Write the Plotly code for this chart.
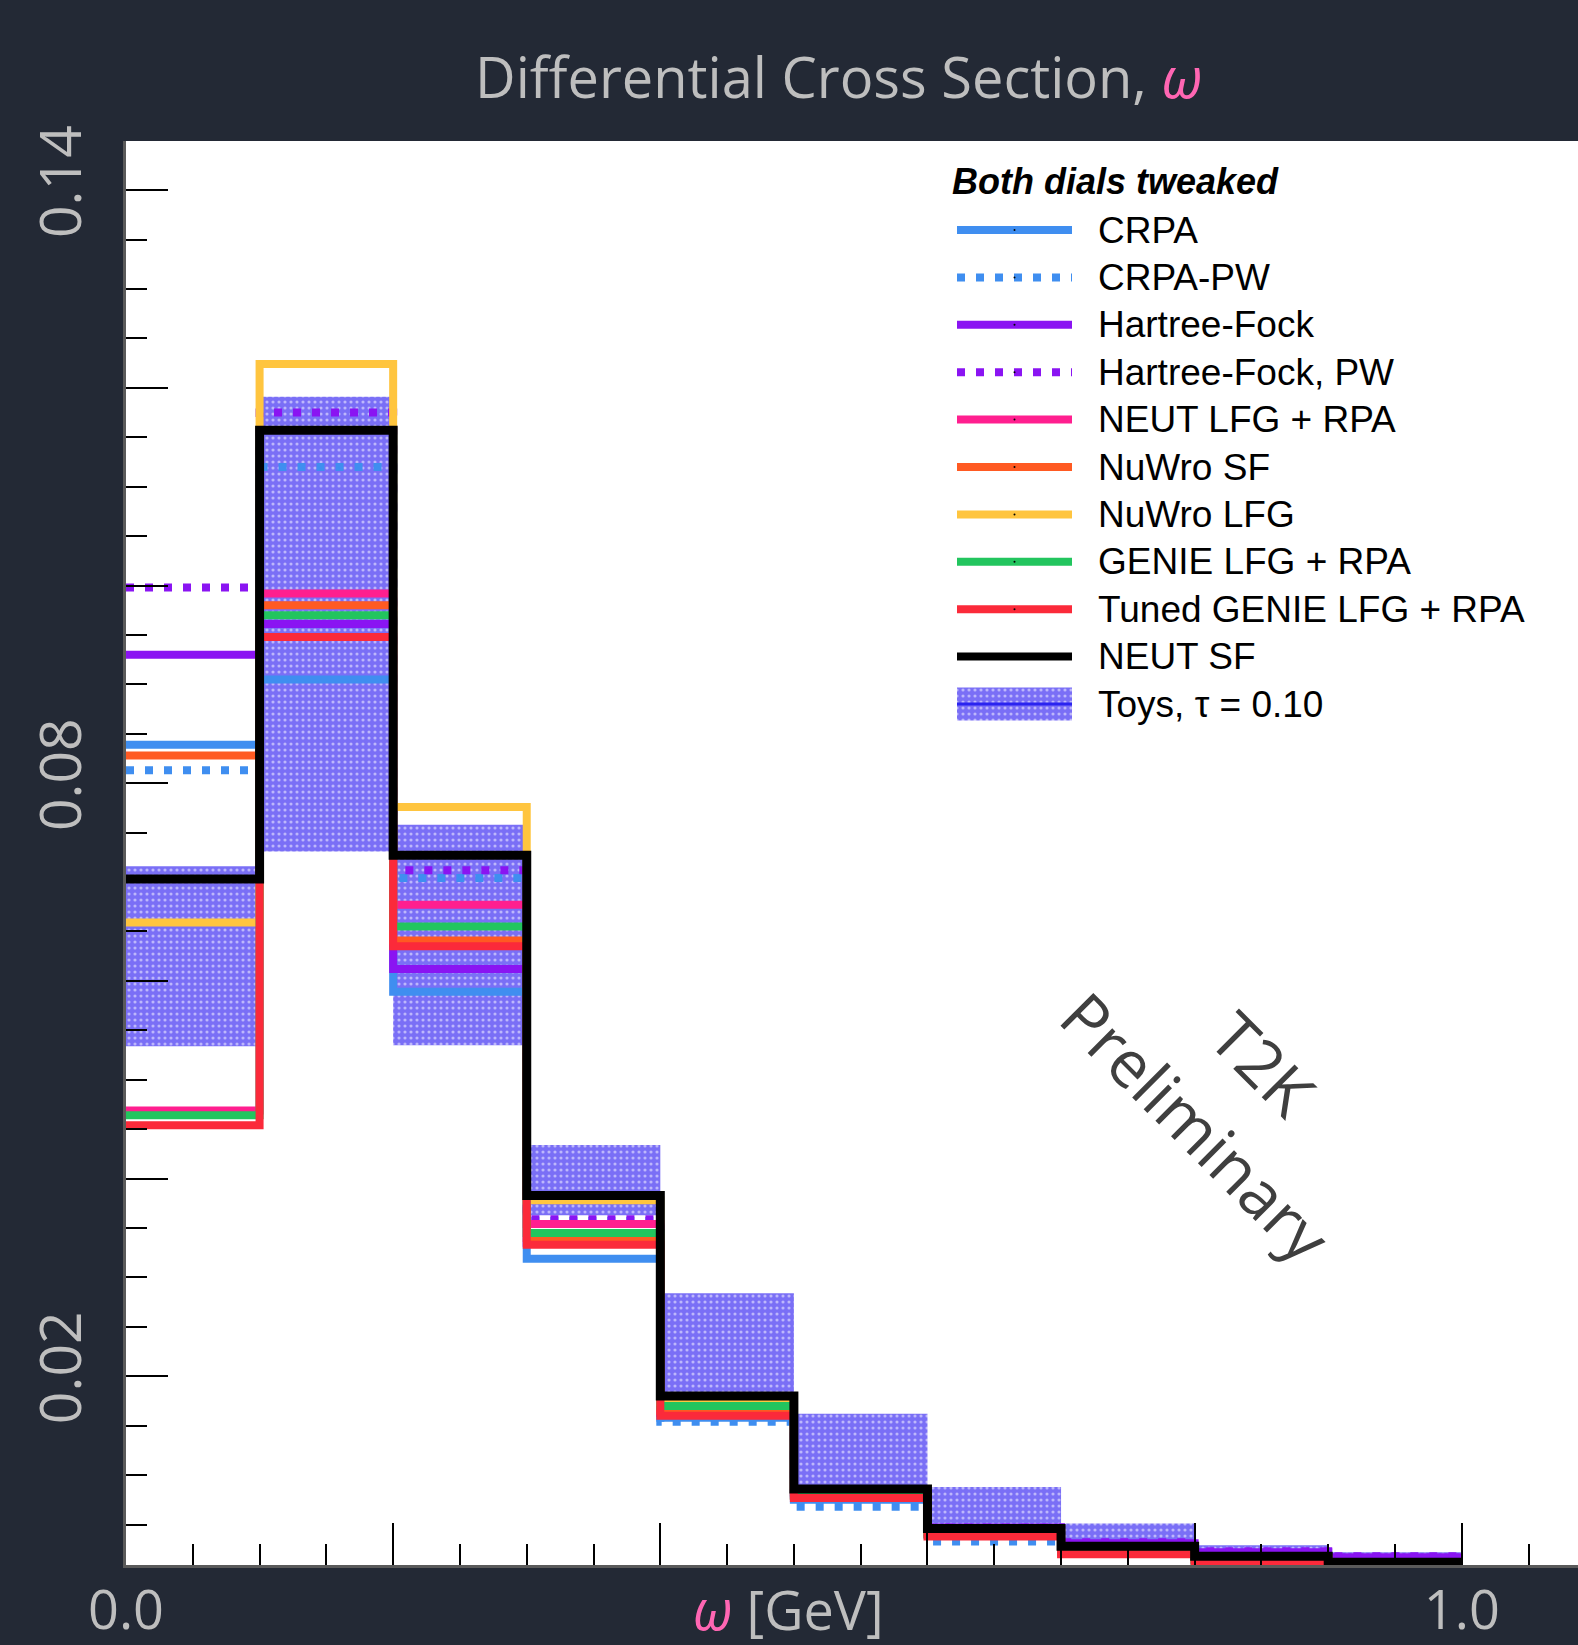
import plotly.graph_objects as go

# Binning in omega [GeV]
bin_edges = [0.0, 0.1, 0.2, 0.3, 0.4, 0.5, 0.6, 0.7, 0.8, 0.9, 1.0]

# Model predictions per bin
crpa = [0.0839, 0.0905, 0.0589, 0.0319, 0.0158, 0.0075, 0.0040, 0.0024, 0.0014, 0.0010]
crpa_pw = [0.0813, 0.1120, 0.0704, 0.0357, 0.0154, 0.0068, 0.0033, 0.0022, 0.0013, 0.0009]
hartree_fock = [0.0930, 0.0961, 0.0612, 0.0335, 0.0163, 0.0082, 0.0047, 0.0031, 0.0022, 0.0017]
hartree_fock_pw = [0.0998, 0.1175, 0.0712, 0.0359, 0.0168, 0.0083, 0.0047, 0.0032, 0.0023, 0.0018]
neut_lfg_rpa = [0.0469, 0.0992, 0.0677, 0.0354, 0.0168, 0.0080, 0.0042, 0.0025, 0.0015, 0.0010]
nuwro_sf = [0.0828, 0.0980, 0.0641, 0.0340, 0.0165, 0.0079, 0.0041, 0.0024, 0.0014, 0.0009]
nuwro_lfg = [0.0659, 0.1224, 0.0776, 0.0378, 0.0174, 0.0083, 0.0044, 0.0026, 0.0016, 0.0011]
genie_lfg_rpa = [0.0464, 0.0970, 0.0655, 0.0345, 0.0170, 0.0079, 0.0040, 0.0023, 0.0013, 0.0009]
tuned_genie = [0.0454, 0.0948, 0.0635, 0.0333, 0.0160, 0.0077, 0.0038, 0.0020, 0.0011, 0.0007]
neut_sf = [0.0703, 0.1157, 0.0727, 0.0383, 0.0180, 0.0086, 0.0046, 0.0028, 0.0018, 0.0012]

# Spread of the toy throws (tau = 0.10)
toys_low = [0.0534, 0.0731, 0.0535, 0.0363, 0.0183, 0.0088, 0.0049, 0.0033, 0.0024, 0.0019]
toys_high = [0.0716, 0.1191, 0.0758, 0.0434, 0.0284, 0.0162, 0.0088, 0.0051, 0.0029, 0.0022]

# Axis tick labels
x_tickvals = [0.0, 0.2, 0.4, 0.6, 0.8, 1.0]
x_ticktext = ["0.0", "", "", "", "", "1.0"]
y_tickvals = [0.02, 0.04, 0.06, 0.08, 0.10, 0.12, 0.14]
y_ticktext = ["0.02", "", "", "0.08", "", "", "0.14"]

DOT = "8px,11px"
series = [
    ("CRPA", crpa, "#3f8ef0", "solid"),
    ("CRPA-PW", crpa_pw, "#3f8ef0", DOT),
    ("Hartree-Fock", hartree_fock, "#8a14f2", "solid"),
    ("Hartree-Fock, PW", hartree_fock_pw, "#8a14f2", DOT),
    ("NEUT LFG + RPA", neut_lfg_rpa, "#ff1f8f", "solid"),
    ("NuWro SF", nuwro_sf, "#ff5a22", "solid"),
    ("NuWro LFG", nuwro_lfg, "#ffc53f", "solid"),
    ("GENIE LFG + RPA", genie_lfg_rpa, "#22c55e", "solid"),
    ("Tuned GENIE LFG + RPA", tuned_genie, "#fb2a3a", "solid"),
    ("NEUT SF", neut_sf, "#000000", "solid"),
]

BG = "#232935"
LABEL = "#bebebe"
PINK = "#ff66b3"
TOYS = "#7a6ff6"
TOY_PATTERN = dict(shape=".", fgcolor="white", size=6, solidity=0.22)

W, H = 1578, 1645
ML, MR, MT, MB = 126, 0, 141, 80

fig = go.Figure()

# Toy band underneath the model curves
centers = [(bin_edges[i] + bin_edges[i + 1]) / 2 for i in range(len(bin_edges) - 1)]
widths = [bin_edges[i + 1] - bin_edges[i] for i in range(len(bin_edges) - 1)]
fig.add_trace(go.Bar(
    x=centers,
    y=[h - l for h, l in zip(toys_high, toys_low)],
    base=toys_low,
    width=widths,
    marker=dict(color=TOYS, line=dict(width=0), pattern=TOY_PATTERN),
    showlegend=False,
    hoverinfo="skip",
))

# Step histograms
for name, vals, color, dash in series:
    width = 9 if color == "#000000" else 8
    fig.add_trace(go.Scatter(
        x=bin_edges,
        y=list(vals) + [vals[-1]],
        mode="lines",
        line=dict(shape="hv", color=color, width=width, dash=dash),
        name=name,
        showlegend=False,
    ))

# Legend drawn on an overlay axis measured in page pixels
leg_x0, leg_x1, leg_text_x = 957, 1072, 1096
leg_y0, leg_dy = 230, 47.4
LEG_FONT = dict(family="Liberation Sans, Arial", size=37, color="black")
for i, (name, vals, color, dash) in enumerate(series):
    yy = leg_y0 + i * leg_dy
    fig.add_trace(go.Scatter(
        x=[leg_x0, leg_x1], y=[yy, yy], mode="lines",
        line=dict(color=color, width=8, dash=dash),
        xaxis="x2", yaxis="y2", showlegend=False, hoverinfo="skip",
    ))
    fig.add_trace(go.Scatter(
        x=[(leg_x0 + leg_x1) / 2], y=[yy], mode="markers",
        marker=dict(color="black", size=2),
        xaxis="x2", yaxis="y2", showlegend=False, hoverinfo="skip",
    ))
    fig.add_annotation(x=leg_text_x, y=yy, xref="x2", yref="y2", text=name,
                       showarrow=False, xanchor="left", yanchor="middle", font=LEG_FONT)

toy_y = leg_y0 + len(series) * leg_dy
fig.add_trace(go.Bar(
    x=[(leg_x0 + leg_x1) / 2], y=[33], base=[toy_y - 16.5], width=[leg_x1 - leg_x0],
    marker=dict(color=TOYS, line=dict(width=0), pattern=TOY_PATTERN),
    xaxis="x2", yaxis="y2", showlegend=False, hoverinfo="skip",
))
fig.add_trace(go.Scatter(
    x=[leg_x0, leg_x1], y=[toy_y, toy_y], mode="lines",
    line=dict(color="#2a24f0", width=3),
    xaxis="x2", yaxis="y2", showlegend=False, hoverinfo="skip",
))
fig.add_annotation(x=leg_text_x, y=toy_y, xref="x2", yref="y2", text="Toys, τ = 0.10",
                   showarrow=False, xanchor="left", yanchor="middle", font=LEG_FONT)
fig.add_annotation(x=950, y=181, xref="x2", yref="y2", text="<b><i>Both dials tweaked</i></b>",
                   showarrow=False, xanchor="left", yanchor="middle",
                   font=dict(family="Liberation Sans, Arial", size=36, color="black"))

# Watermark
for txt, cx, cy in [("T2K", 1263, 1063), ("Preliminary", 1196, 1126)]:
    fig.add_annotation(x=cx, y=cy, xref="x2", yref="y2", text=txt, textangle=45,
                       showarrow=False, xanchor="center", yanchor="middle",
                       font=dict(family="Open Sans", size=65, color="#3f3f3f"))

# x-axis title
fig.add_annotation(x=0.496, y=(H - MB - 1609) / (H - MT - MB), xref="x", yref="paper",
                   text=f"<span style='color:{PINK}'><i>ω</i></span> [GeV]",
                   showarrow=False, xanchor="center", yanchor="middle",
                   font=dict(family="Open Sans", size=54, color=LABEL))

tick_common = dict(ticks="inside", tickcolor="black", tickwidth=2, ticklen=42,
                   showline=True, linecolor="#5a5a5a", linewidth=3, mirror=False,
                   showgrid=False, zeroline=False, automargin=False)

fig.update_layout(
    width=W, height=H,
    paper_bgcolor=BG, plot_bgcolor="white",
    margin=dict(l=ML, r=MR, t=MT, b=MB, autoexpand=False),
    barmode="overlay",
    title=dict(
        text=f"Differential Cross Section, <span style='color:{PINK}'><i>ω</i></span>",
        x=475 / W, xanchor="left", xref="container",
        y=1 - 78 / H, yanchor="middle", yref="container",
        font=dict(family="Open Sans", size=56, color=LABEL),
    ),
    xaxis=dict(range=[0, 1.087], tickmode="array", tickvals=x_tickvals, ticktext=x_ticktext,
               ticklabelstandoff=-4,
               tickfont=dict(family="Open Sans", size=54, color=LABEL),
               minor=dict(tickmode="linear", tick0=0, dtick=0.05, ticks="inside",
                          ticklen=21, tickwidth=2, tickcolor="black"),
               **tick_common),
    yaxis=dict(range=[0.00091, 0.14497], tickmode="array", tickvals=y_tickvals, ticktext=y_ticktext,
               tickangle=-90, ticklabelstandoff=19,
               tickfont=dict(family="Open Sans", size=57, color=LABEL),
               minor=dict(tickmode="linear", tick0=0, dtick=0.005, ticks="inside",
                          ticklen=21, tickwidth=2, tickcolor="black"),
               **tick_common),
    xaxis2=dict(overlaying="x", range=[ML, W - MR], visible=False, fixedrange=True),
    yaxis2=dict(overlaying="y", range=[H - MB, MT], visible=False, fixedrange=True),
    showlegend=False,
)

fig.write_html("out.html")
